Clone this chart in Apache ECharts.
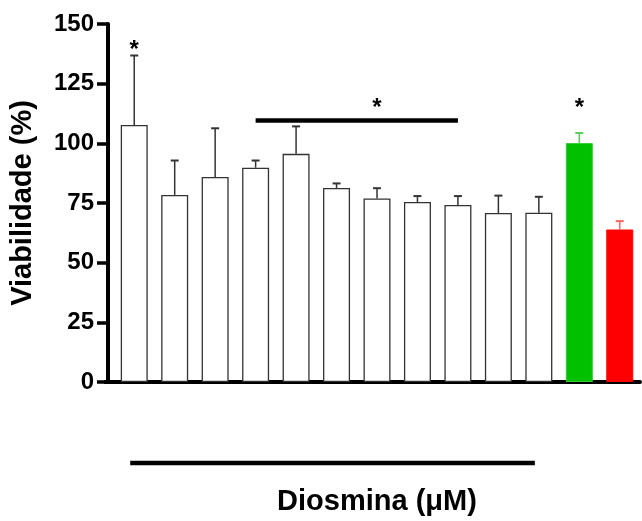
<!DOCTYPE html>
<html>
<head>
<meta charset="utf-8">
<script src="https://cdn.jsdelivr.net/npm/echarts@6/dist/echarts.min.js"></script>
<style>html,body{margin:0;padding:0;background:#fff}#c{width:642px;height:521px}</style>
</head>
<body>
<div id="c"></div>
<script>
// ---- data ----
var categories = ['1','2','3','4','5','6','7','8','9','10','11','Controle','Padrão'];
var means  = [107.7, 78.4, 85.9, 89.8, 95.6, 81.3, 76.9, 75.4, 74.2, 70.8, 70.9, 100.1, 63.9];
var errTop = [136.8, 92.8, 106.3, 92.8, 107.1, 83.2, 81.2, 77.9, 77.9, 78.1, 77.6, 104.3, 67.4];
var yTicks = [0, 25, 50, 75, 100, 125, 150];
var starCats = [0, 6, 11];
var starValues = [141.7, 117.6, 117.6];
var sigLine = { from: 3, to: 8, value: 109.6 };
var groupLine = { from: 0, to: 10 };
var yTitle = 'Viabilidade (%)';
var xTitle = 'Diosmina (\u03bcM)';

var FONT = '"Liberation Sans", Arial, Helvetica, sans-serif';
var fills = categories.map(function (c, i) {
  if (i === 11) return { color: '#00c000', borderColor: '#33cc33', borderWidth: 1 };
  if (i === 12) return { color: '#ff0000', borderColor: '#ff0000', borderWidth: 1 };
  return { color: '#ffffff', borderColor: '#333333', borderWidth: 1.3 };
});
var errColors = categories.map(function (c, i) {
  return i === 11 ? '#55cc55' : (i === 12 ? '#ff6666' : '#333333');
});

var chart = echarts.init(document.getElementById('c'), null, { renderer: 'canvas' });
chart.setOption({
  animation: false,
  backgroundColor: '#ffffff',
  grid: { left: 112, right: 2, top: 24, bottom: 138, containLabel: false },
  xAxis: {
    type: 'category',
    data: categories,
    name: xTitle,
    nameLocation: 'middle',
    nameGap: 105,
    nameTextStyle: { fontFamily: FONT, fontWeight: 'bold', fontSize: 29, color: '#000' },
    axisLine: { lineStyle: { color: '#000', width: 4 } },
    axisTick: { alignWithLabel: true, length: 10, lineStyle: { color: '#000', width: 3.5 } },
    axisLabel: { show: false },
    splitLine: { show: false }
  },
  yAxis: {
    type: 'value',
    min: yTicks[0],
    max: yTicks[yTicks.length - 1],
    interval: yTicks[1] - yTicks[0],
    offset: 6,
    name: yTitle,
    nameLocation: 'middle',
    nameGap: 71,
    nameTextStyle: { fontFamily: FONT, fontWeight: 'bold', fontSize: 29, color: '#000' },
    axisLine: { show: true, lineStyle: { color: '#000', width: 4 } },
    axisTick: { show: true, length: 11, lineStyle: { color: '#000', width: 3.5 } },
    axisLabel: { fontFamily: FONT, fontWeight: 'bold', fontSize: 24, color: '#000', margin: 14 },
    splitLine: { show: false }
  },
  series: [
    {
      type: 'bar',
      barWidth: 27,
      data: means.map(function (v, i) { return { value: v, itemStyle: fills[i] }; }),
      z: 2
    },
    {
      type: 'custom',
      z: 3,
      clip: false,
      data: means.map(function (v, i) { return [i, v, errTop[i]]; }),
      renderItem: function (params, api) {
        var i = api.value(0);
        var p0 = api.coord([i, api.value(1)]);
        var p1 = api.coord([i, api.value(2)]);
        var col = errColors[i];
        return {
          type: 'group',
          children: [
            { type: 'line', shape: { x1: p0[0], y1: p0[1], x2: p1[0], y2: p1[1] }, style: { stroke: col, lineWidth: 1.5 } },
            { type: 'line', shape: { x1: p1[0] - 4, y1: p1[1], x2: p1[0] + 4, y2: p1[1] }, style: { stroke: col, lineWidth: 2 } }
          ]
        };
      }
    },
    {
      type: 'custom',
      z: 4,
      clip: false,
      data: starCats.map(function (c, k) { return [c, starValues[k]]; }),
      renderItem: function (params, api) {
        var p = api.coord([api.value(0), api.value(1)]);
        return {
          type: 'text',
          style: { text: '*', x: p[0], y: p[1] + 7, align: 'center', verticalAlign: 'middle',
                   font: 'bold 24px ' + FONT, fill: '#000' }
        };
      }
    },
    {
      type: 'custom',
      z: 4,
      clip: false,
      data: [[sigLine.from, sigLine.to, sigLine.value]],
      renderItem: function (params, api) {
        var a = api.coord([api.value(0), api.value(2)]);
        var b = api.coord([api.value(1), api.value(2)]);
        return { type: 'line', shape: { x1: a[0], y1: a[1], x2: b[0], y2: b[1] }, style: { stroke: '#000', lineWidth: 4.5 } };
      }
    },
    {
      type: 'custom',
      z: 4,
      clip: false,
      data: [[groupLine.from, groupLine.to]],
      renderItem: function (params, api) {
        var a = api.coord([api.value(0), 0]);
        var b = api.coord([api.value(1), 0]);
        var y = a[1] + 81;
        return { type: 'line', shape: { x1: a[0] - 4, y1: y, x2: b[0] - 4, y2: y }, style: { stroke: '#000', lineWidth: 4.5 } };
      }
    }
  ]
});
// close the small corner gap between the offset y axis and the x axis line
var o = chart.convertToPixel({ gridIndex: 0 }, [0, 0]);
chart.setOption({
  graphic: [{ type: 'line', shape: { x1: 104, y1: o[1], x2: 114, y2: o[1] }, style: { stroke: '#000', lineWidth: 4 }, z: 10 }]
});
</script>
</body>
</html>
